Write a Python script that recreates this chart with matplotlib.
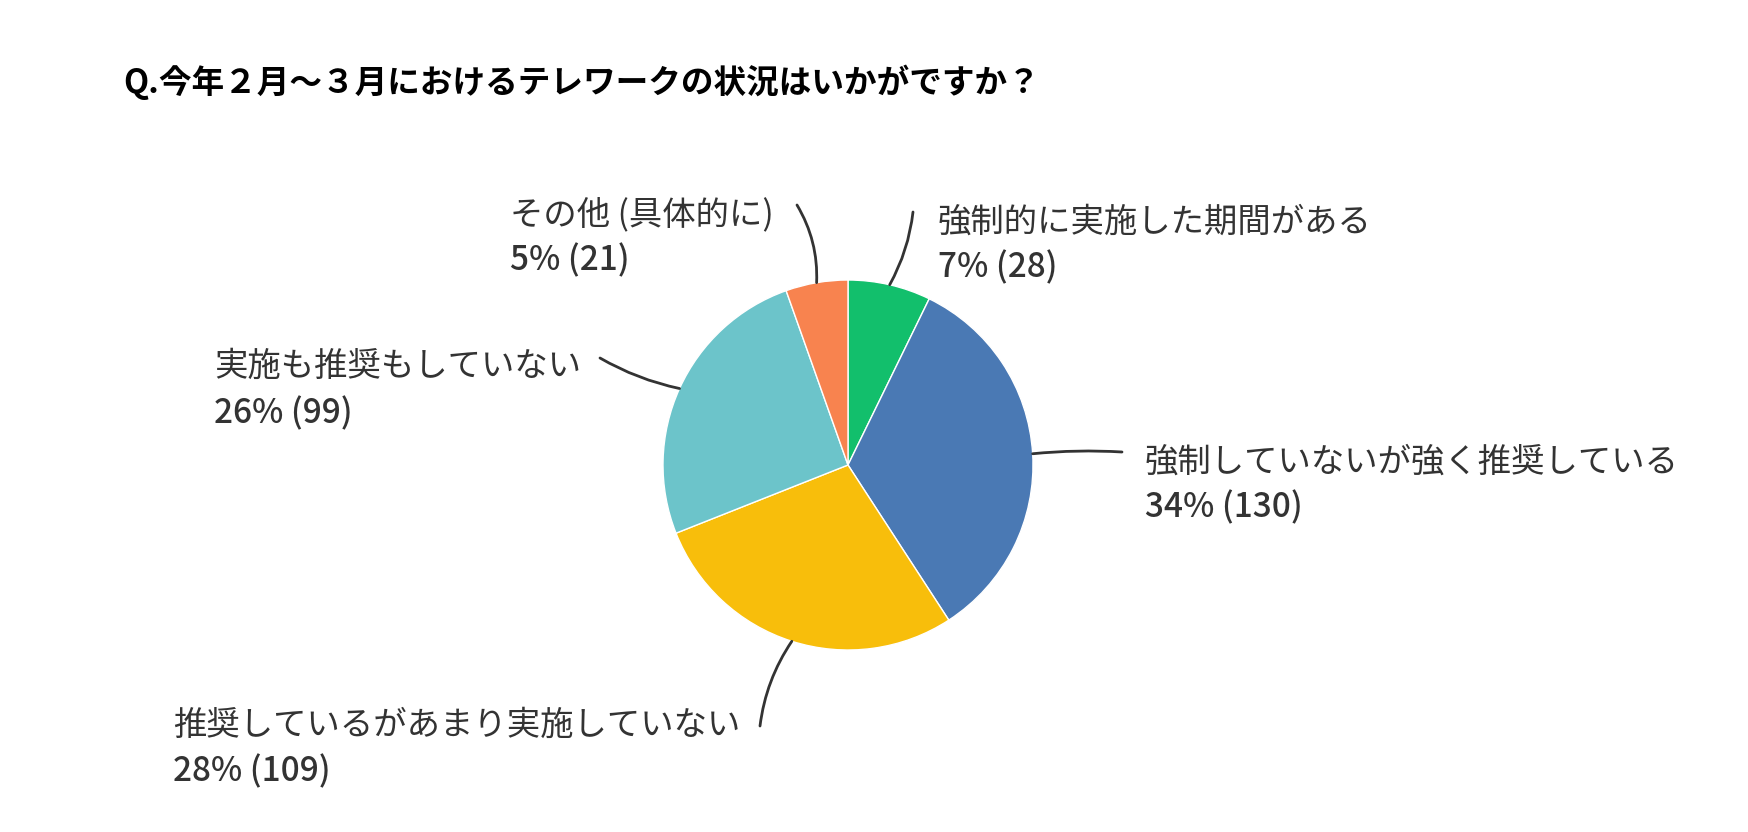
import matplotlib
matplotlib.use("Agg")
import matplotlib.pyplot as plt
import numpy as np

plt.rcParams['font.family'] = ['Noto Sans CJK JP', 'DejaVu Sans']

# data, clockwise from the top
labels = ['強制的に実施した期間がある', '強制していないが強く推奨している',
          '推奨しているがあまり実施していない', '実施も推奨もしていない', 'その他 (具体的に)']
counts = [28, 130, 109, 99, 21]
colors = ['#12bf6c', '#4a79b4', '#f8be0b', '#6cc4ca', '#f8834f']
title = 'Q.今年２月～３月におけるテレワークの状況はいかがですか？'

W, H = 1748, 832
fig = plt.figure(figsize=(W / 100, H / 100), dpi=100)

# pie placement in pixels
cx, cy, r = 848, 465, 185
ax = fig.add_axes([(cx - r) / W, (H - cy - r) / H, 2 * r / W, 2 * r / H])
wedges, _ = ax.pie(counts, colors=colors, startangle=90, counterclock=False,
                   radius=1, wedgeprops=dict(edgecolor='white', linewidth=1))
ax.set_xlim(-1, 1)
ax.set_ylim(-1, 1)
ax.set_aspect('equal')
ax.axis('off')

def px(x, y):
    return (x / W, 1 - y / H)

fig.text(*px(123, 82), title, fontsize=23.5, fontweight='bold', va='center', ha='left', color='black')

# label layout: text left x, line1 y, line2 y, leader end point, curve
layout = [
    (938, 222, 268, (913, 212), -0.1),
    (1145, 462, 508, (1122, 452), 0.04),
    (173, 725, 772, (760, 726), -0.12),
    (214, 366, 414, (600, 358), 0.08),
    (510, 215, 261, (797, 205), -0.15),
]

total = sum(counts)
text_color = '#333333'
for w, lab, n, (tx, y1, y2, end, rad) in zip(wedges, labels, counts, layout):
    mid = np.deg2rad((w.theta1 + w.theta2) / 2)
    edge = (np.cos(mid), np.sin(mid))
    pct = round(n / total * 100)
    fig.text(*px(tx, y1), lab, fontsize=24, color=text_color, va='center', ha='left')
    fig.text(*px(tx, y2), f'{pct}% ({n})', fontsize=24, fontweight='medium',
             color=text_color, va='center', ha='left')
    ax.annotate('', xy=edge, xycoords='data', xytext=px(*end), textcoords='figure fraction',
                arrowprops=dict(arrowstyle='-', color='#333333', lw=2,
                                shrinkA=0, shrinkB=0,
                                connectionstyle=f'arc3,rad={rad}'),
                annotation_clip=False)

fig.savefig('out.png', dpi=100, facecolor='white')
